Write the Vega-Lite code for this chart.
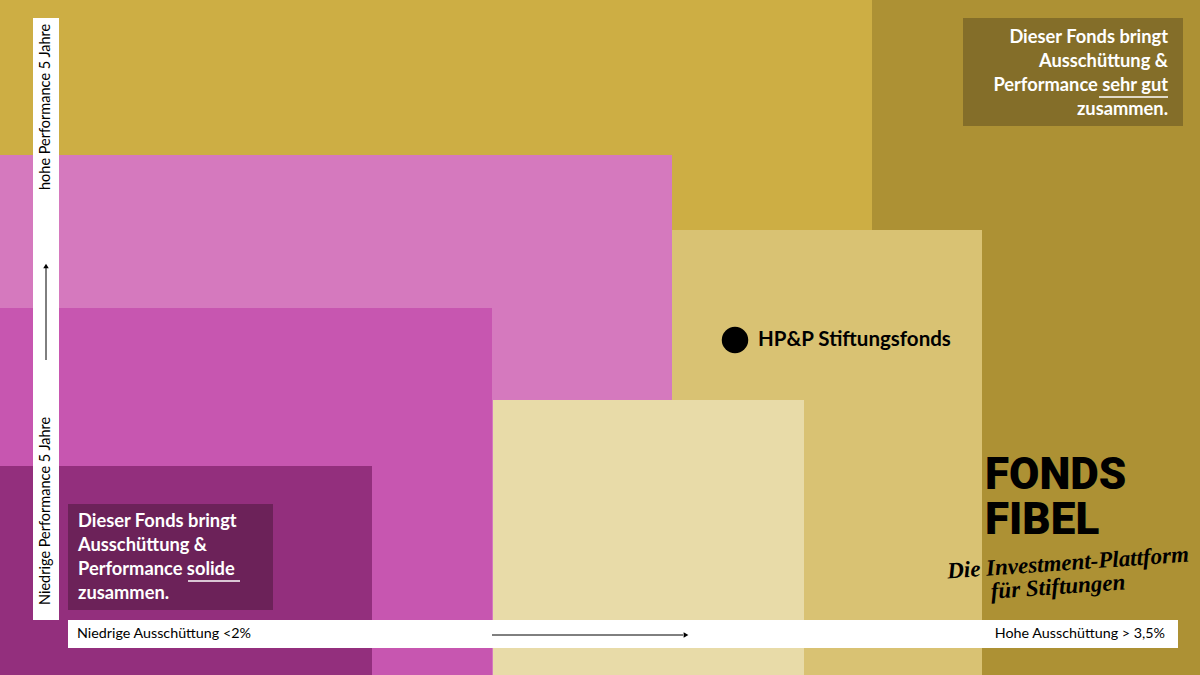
{
  "$schema": "https://vega.github.io/schema/vega-lite/v6.json",
  "width": 1200,
  "height": 675,
  "padding": 0,
  "autosize": {"type": "fit", "contains": "padding"},
  "config": {"view": {"stroke": null}},
  "encoding": {
    "x": {"type": "quantitative", "scale": {"domain": [0, 1200], "nice": false, "zero": false}, "axis": null},
    "y": {"type": "quantitative", "scale": {"domain": [0, 675], "nice": false, "zero": false, "reverse": true}, "axis": null}
  },
  "layer": [
    {
      "data": {"values": [
        {"zone": "gold", "x": 0, "x2": 1200, "y": 0, "y2": 675},
        {"zone": "darkgold", "x": 872, "x2": 1200, "y": 0, "y2": 675},
        {"zone": "lightpink", "x": 0, "x2": 672, "y": 155, "y2": 675},
        {"zone": "pink", "x": 0, "x2": 492, "y": 308, "y2": 675},
        {"zone": "purple", "x": 0, "x2": 372, "y": 466, "y2": 675},
        {"zone": "tan", "x": 672, "x2": 982, "y": 230, "y2": 675},
        {"zone": "pale", "x": 493, "x2": 804, "y": 400, "y2": 675},
        {"zone": "boxgold", "x": 963, "x2": 1183, "y": 18, "y2": 126},
        {"zone": "boxpurple", "x": 68, "x2": 273, "y": 504, "y2": 610},
        {"zone": "bar", "x": 33, "x2": 59, "y": 18, "y2": 620},
        {"zone": "bar", "x": 68, "x2": 1178, "y": 620, "y2": 648}
      ]},
      "mark": {"type": "rect"},
      "encoding": {
        "x": {"field": "x", "type": "quantitative"},
        "x2": {"field": "x2"},
        "y": {"field": "y", "type": "quantitative"},
        "y2": {"field": "y2"},
        "color": {"field": "zone", "type": "nominal", "legend": null,
          "scale": {"domain": ["gold", "darkgold", "lightpink", "pink", "purple", "tan", "pale", "boxgold", "boxpurple", "bar"],
                    "range": ["#CDAE44", "#AD9134", "#D579BE", "#C756B0", "#932F7D", "#D9C273", "#E8DBA8", "#846E29", "#6C2259", "#FFFFFF"]}}
      }
    },
    {
      "data": {"values": [
        {"x": 1168, "y": 38, "t": "Dieser Fonds bringt"},
        {"x": 1168, "y": 62, "t": "Ausschüttung &"},
        {"x": 1168, "y": 86, "t": "Performance sehr gut"},
        {"x": 1168, "y": 110, "t": "zusammen."}
      ]},
      "mark": {"type": "text", "align": "right", "baseline": "middle", "font": "Lato", "fontWeight": "bold", "fontSize": 18.3, "color": "#FFFFFF"},
      "encoding": {"x": {"field": "x", "type": "quantitative"}, "y": {"field": "y", "type": "quantitative"}, "text": {"field": "t"}}
    },
    {
      "data": {"values": [
        {"x": 78, "y": 522, "t": "Dieser Fonds bringt"},
        {"x": 78, "y": 546, "t": "Ausschüttung &"},
        {"x": 78, "y": 570, "t": "Performance solide"},
        {"x": 78, "y": 594, "t": "zusammen."}
      ]},
      "mark": {"type": "text", "align": "left", "baseline": "middle", "font": "Lato", "fontWeight": "bold", "fontSize": 18.3, "color": "#FFFFFF"},
      "encoding": {"x": {"field": "x", "type": "quantitative"}, "y": {"field": "y", "type": "quantitative"}, "text": {"field": "t"}}
    },
    {
      "data": {"values": [
        {"x": 1099, "x2": 1168, "y": 97},
        {"x": 188, "x2": 240, "y": 581}
      ]},
      "mark": {"type": "rule", "color": "#FFFFFF", "strokeWidth": 1.5},
      "encoding": {"x": {"field": "x", "type": "quantitative"}, "x2": {"field": "x2"}, "y": {"field": "y", "type": "quantitative"}}
    },
    {
      "data": {"values": [
        {"x": 46, "y": 190, "t": "hohe Performance 5 Jahre"},
        {"x": 46, "y": 605, "t": "Niedrige Performance 5 Jahre"}
      ]},
      "mark": {"type": "text", "align": "left", "baseline": "middle", "angle": 270, "font": "Lato", "fontSize": 14.5, "color": "#000000"},
      "encoding": {"x": {"field": "x", "type": "quantitative"}, "y": {"field": "y", "type": "quantitative"}, "text": {"field": "t"}}
    },
    {
      "data": {"values": [
        {"x": 77, "y": 634, "t": "Niedrige Ausschüttung <2%"}
      ]},
      "mark": {"type": "text", "align": "left", "baseline": "middle", "font": "Lato", "fontSize": 14.3, "color": "#000000"},
      "encoding": {"x": {"field": "x", "type": "quantitative"}, "y": {"field": "y", "type": "quantitative"}, "text": {"field": "t"}}
    },
    {
      "data": {"values": [
        {"x": 1165, "y": 634, "t": "Hohe Ausschüttung > 3,5%"}
      ]},
      "mark": {"type": "text", "align": "right", "baseline": "middle", "font": "Lato", "fontSize": 14.3, "color": "#000000"},
      "encoding": {"x": {"field": "x", "type": "quantitative"}, "y": {"field": "y", "type": "quantitative"}, "text": {"field": "t"}}
    },
    {
      "data": {"values": [
        {"x": 46, "x2": 46, "y": 360, "y2": 268},
        {"x": 492, "x2": 683, "y": 635, "y2": 635}
      ]},
      "mark": {"type": "rule", "color": "#000000", "strokeWidth": 1},
      "encoding": {"x": {"field": "x", "type": "quantitative"}, "x2": {"field": "x2"}, "y": {"field": "y", "type": "quantitative"}, "y2": {"field": "y2"}}
    },
    {
      "data": {"values": [{"x": 46, "y": 266}]},
      "mark": {"type": "point", "shape": "triangle-up", "filled": true, "color": "#000000", "size": 30, "opacity": 1},
      "encoding": {"x": {"field": "x", "type": "quantitative"}, "y": {"field": "y", "type": "quantitative"}}
    },
    {
      "data": {"values": [{"x": 686, "y": 635}]},
      "mark": {"type": "point", "shape": "triangle-right", "filled": true, "color": "#000000", "size": 30, "opacity": 1},
      "encoding": {"x": {"field": "x", "type": "quantitative"}, "y": {"field": "y", "type": "quantitative"}}
    },
    {
      "data": {"values": [{"x": 735, "y": 340, "t": "HP&P Stiftungsfonds"}]},
      "layer": [
        {"mark": {"type": "point", "shape": "circle", "filled": true, "color": "#000000", "size": 700, "opacity": 1},
         "encoding": {"x": {"field": "x", "type": "quantitative"}, "y": {"field": "y", "type": "quantitative"}}},
        {"mark": {"type": "text", "align": "left", "baseline": "middle", "dx": 23, "font": "Lato", "fontWeight": "bold", "fontSize": 20.5, "color": "#000000"},
         "encoding": {"x": {"field": "x", "type": "quantitative"}, "y": {"field": "y", "type": "quantitative"}, "text": {"field": "t"}}}
      ]
    },
    {
      "data": {"values": [
        {"x": 985, "y": 489, "t": "FONDS\nFIBEL"}
      ]},
      "mark": {"type": "text", "align": "left", "baseline": "alphabetic", "lineBreak": "\n", "lineHeight": 45, "font": "Roboto", "fontWeight": 900, "fontSize": 44, "color": "#000000"},
      "encoding": {"x": {"field": "x", "type": "quantitative"}, "y": {"field": "y", "type": "quantitative"}, "text": {"field": "t"}}
    },
    {
      "data": {"values": [
        {"x": 1068, "y": 563, "t": "Die Investment-Plattform"},
        {"x": 1058, "y": 587, "t": "für Stiftungen"}
      ]},
      "mark": {"type": "text", "align": "center", "baseline": "middle", "angle": 356, "font": "Liberation Serif", "fontStyle": "italic", "fontWeight": "bold", "fontSize": 23, "color": "#000000"},
      "encoding": {"x": {"field": "x", "type": "quantitative"}, "y": {"field": "y", "type": "quantitative"}, "text": {"field": "t"}}
    }
  ]
}
